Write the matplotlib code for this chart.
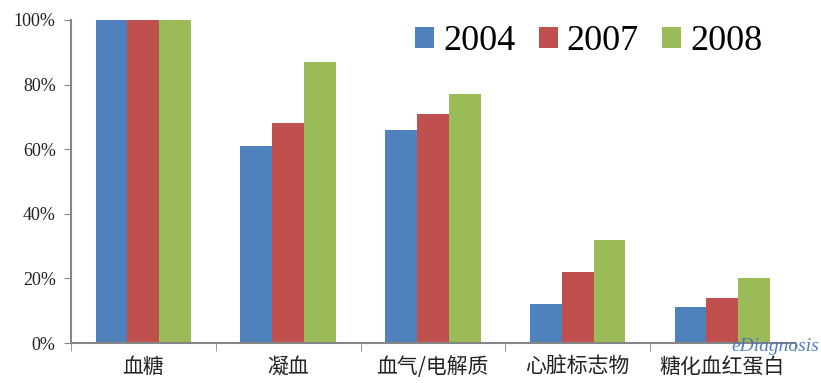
import numpy as np
import matplotlib.pyplot as plt
from matplotlib.ticker import FixedLocator, PercentFormatter

plt.rcParams['font.family'] = ['Liberation Serif', 'Noto Sans CJK SC']

categories = ['血糖', '凝血', '血气/电解质', '心脏标志物', '糖化血红蛋白']
years = ['2004', '2007', '2008']
v2004 = [100, 61, 66, 12, 11]
v2007 = [100, 68, 71, 22, 14]
v2008 = [100, 87, 77, 32, 20]
colors = ['#4F81BD', '#C0504D', '#9BBB59']

fig = plt.figure(figsize=(8.21, 3.83), dpi=100)
ax = fig.add_axes([0.0865, 0.1044, 0.8815, 0.8434])

x = np.arange(len(categories))
w = 0.22
for i, (vals, yr) in enumerate(zip([v2004, v2007, v2008], years)):
    ax.bar(x + (i - 1) * w, vals, w, color=colors[i], label=yr)

ax.set_xlim(-0.5, len(categories) - 0.5)
ax.set_ylim(0, 100)
ax.set_yticks(np.arange(0, 101, 20))
ax.yaxis.set_major_formatter(PercentFormatter(decimals=0))

ax.set_xticks(x)
ax.set_xticklabels(categories, family=['Noto Sans CJK SC'], fontsize=15)
ax.xaxis.set_minor_locator(FixedLocator(np.arange(-0.5, len(categories), 1)))
ax.tick_params(axis='x', which='major', length=0, pad=9)
ax.tick_params(axis='x', which='minor', length=6, color='#868686', direction='out')
ax.tick_params(axis='y', labelsize=13, length=5, color='#868686', colors='#222222', pad=6)
ax.tick_params(axis='x', colors='#222222')

for s in ['top', 'right']:
    ax.spines[s].set_visible(False)
for s in ['left', 'bottom']:
    ax.spines[s].set_color('#868686')
    ax.spines[s].set_linewidth(1.5)

ax.legend(loc='upper right', bbox_to_anchor=(1.0, 1.085), ncol=3, frameon=False,
          fontsize=26, handlelength=0.53, handleheight=0.53, handletextpad=0.25,
          columnspacing=0.64)

# watermark
fig.text(0.998, 0.073, 'eDiagnosis', color='#3a6fb5', fontsize=14, style='italic',
         ha='right', va='bottom', alpha=0.9)

fig.savefig('out.png', dpi=100)
